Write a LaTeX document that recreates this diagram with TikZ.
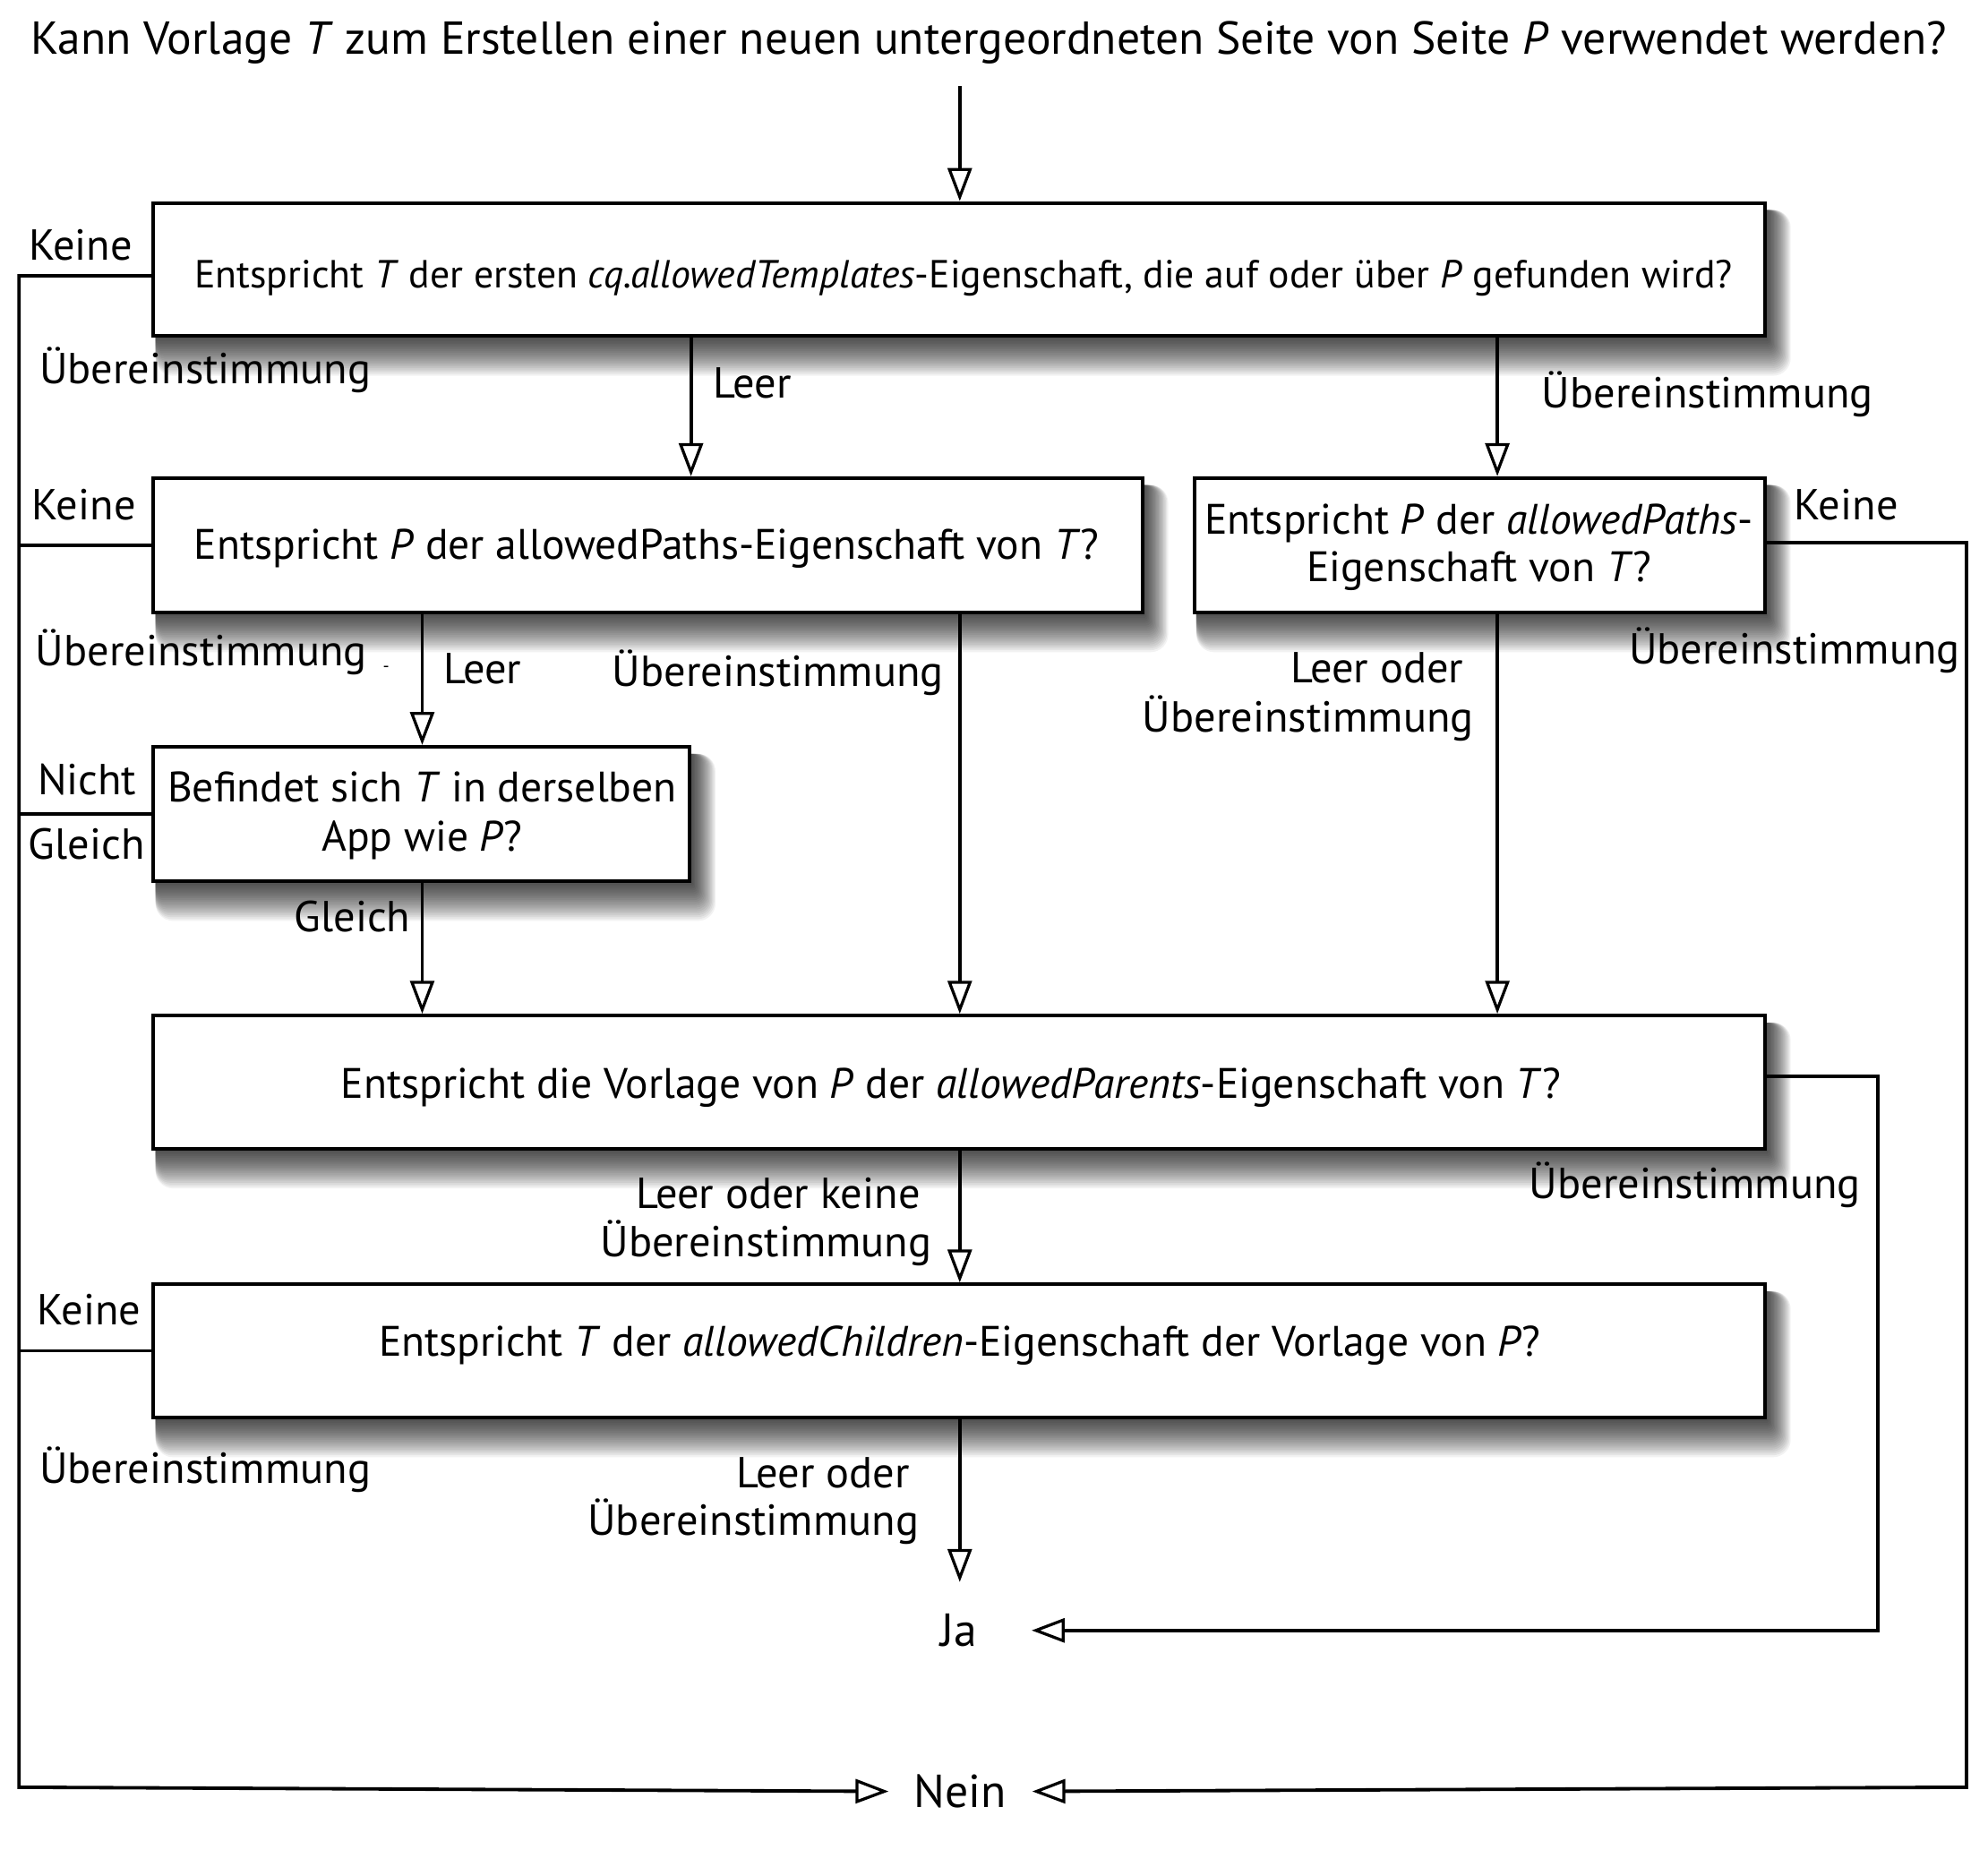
\documentclass[tikz,border=0pt]{standalone}
\usepackage{fontspec}
\setmainfont{PT Sans}
\usetikzlibrary{arrows.meta}
\pgfdeclarelayer{paper}
\pgfdeclarelayer{background}
\pgfsetlayers{paper,background,main}
\begin{document}
\begin{tikzpicture}[x=1pt,y=-1pt,
  conn/.style={line width=2.7pt, line join=miter},
  arr/.style={conn, -{Triangle[length=26pt,width=19pt,fill=white,line width=2.3pt]}},
  qbox/.style={draw, line width=2.8pt, fill=white, inner sep=0pt},
  shadelayer/.style={fill=black, fill opacity=0.05, draw=none},
  txt/.style={inner sep=0pt, font=\fontsize{33.6}{40}\selectfont},
  txtsm/.style={inner sep=0pt, font=\fontsize{30.9}{37}\selectfont},
  lbl/.style={inner sep=0pt, font=\fontsize{34.2}{41}\selectfont},
  ttl/.style={inner sep=0pt, font=\fontsize{36.4}{44}\selectfont},
  term/.style={inner sep=0pt, font=\fontsize{36.5}{44}\selectfont}
]
\useasboundingbox (0,0) rectangle (1568,1459);
\begin{pgfonlayer}{paper}
\fill[white] (0,0) rectangle (1568,1459);
\end{pgfonlayer}

% boxes
\node[qbox, minimum width=1271pt, minimum height=105pt] (b1) at (756.5,212.5) {};
\node[qbox, minimum width=780pt,  minimum height=106pt] (b2) at (511,430) {};
\node[qbox, minimum width=450pt,  minimum height=106pt] (b3) at (1167,430) {};
\node[qbox, minimum width=423pt,  minimum height=106pt] (b4) at (332.5,642) {};
\node[qbox, minimum width=1271pt, minimum height=105pt] (b5) at (756.5,853.5) {};
\node[qbox, minimum width=1271pt, minimum height=105pt] (b6) at (756.5,1065.5) {};
\node[term, minimum width=114pt, minimum height=76pt] (ja) at (756.5,1286) {Ja};
\node[term, minimum width=113pt, minimum height=20pt] (nein) at (757.5,1413) {Nein};

% soft drop shadows
\begin{pgfonlayer}{background}
\foreach \b in {b1,b2,b3,b4,b5,b6}{
  \foreach \k [evaluate=\k as \dx using 0.95*\k, evaluate=\k as \dy using -1.5*\k, evaluate=\k as \rr using 0.7*\k] in {1,...,20}{
    \fill[shadelayer, rounded corners=\rr pt] ([xshift=3pt,yshift=-7pt]\b.north west) rectangle ([xshift=\dx pt,yshift=\dy pt]\b.south east);
  }
}
\end{pgfonlayer}

% title and box texts
\node[ttl, anchor=base] (t0) at (780,42.6) {Kann Vorlage \textit{T} zum Erstellen einer neuen untergeordneten Seite von Seite \textit{P} verwendet werden?};
\node[txtsm, anchor=base] (t1) at (760,227) {Entspricht \textit{T} der ersten \textit{cq.allowedTemplates}-Eigenschaft, die auf oder über \textit{P} gefunden wird?};
\node[txt, anchor=base] (t2) at (510,441.4) {Entspricht \textit{P} der allowedPaths-Eigenschaft von \textit{T}?};
\node[txt, anchor=base] (t3a) at (1166.5,421) {Entspricht \textit{P} der \textit{allowedPaths}-};
\node[txt, anchor=base] (t3b) at (1166.5,458.7) {Eigenschaft von \textit{T}?};
\node[txt, anchor=base] (t4a) at (333,632.6) {Befindet sich \textit{T} in derselben};
\node[txt, anchor=base] (t4b) at (333,671) {App wie \textit{P}?};
\node[txt, anchor=base] (t5) at (750,866) {Entspricht die Vorlage von \textit{P} der \textit{allowedParents}-Eigenschaft von \textit{T}?};
\node[txt, anchor=base] (t6) at (757,1070) {Entspricht \textit{T} der \textit{allowedChildren}-Eigenschaft der Vorlage von \textit{P}?};

% helper coordinates
\coordinate (start) at (757,68);
\coordinate (lb) at (15,1409.7);
\coordinate (rb) at (1551,1409.7);
\coordinate (xR2) at (1481,0);
\coordinate (xa) at (545,0);
\coordinate (xb) at (1181,0);
\coordinate (xc) at (333,0);
\coordinate (xd) at (757,0);

% connectors
\draw[arr] (start) -- (start |- b1.north);
\draw[arr] (b1.south -| xa) -- (b2.north -| xa);
\draw[arr] (b1.south -| xb) -- (b3.north -| xb);
\draw[arr] (b2.south -| xc) -- (b4.north -| xc);
\draw[arr] (b2.south -| xd) -- (b5.north -| xd);
\draw[arr] (b3.south -| xb) -- (b5.north -| xb);
\draw[arr] (b4.south -| xc) -- (b5.north -| xc);
\draw[arr] (b5.south -| xd) -- (b6.north -| xd);
\draw[arr] (b6.south -| xd) -- (ja.north -| xd);
\draw[arr] ([yshift=-5pt]b1.west) -- ([yshift=-5pt]b1.west -| lb) -- (lb) -- (nein.west);
\draw[conn] (b2.west) -- (b2.west -| lb);
\draw[conn] (b4.west) -- (b4.west -| lb);
\draw[conn] (b6.west) -- (b6.west -| lb);
\draw[arr] ([yshift=2pt]b3.east) -- ([yshift=2pt]b3.east -| rb) -- (rb) -- (nein.east);
\draw[arr] ([yshift=4.5pt]b5.east) -- ([yshift=4.5pt]b5.east -| xR2) |- (ja.east);

% labels
\node[lbl, anchor=base west] (l1) at (22.5,205) {Keine};
\node[lbl, anchor=base west] (l2) at (31,302.7) {Übereinstimmung};
\node[lbl, anchor=base west] (l3) at (562.5,313.7) {Leer};
\node[lbl, anchor=base west] (l4) at (1216,321.5) {Übereinstimmung};
\node[lbl, anchor=base west] (l5) at (25,410) {Keine};
\node[lbl, anchor=base west] (l6) at (1415,410) {Keine};
\node[lbl, anchor=base west] (l7) at (28,524.8) {Übereinstimmung};
\node[inner sep=0pt, font=\fontsize{14}{16}\selectfont] (l7d) at (304.5,527.6) {-};
\node[lbl, anchor=base west] (l8) at (349.5,539.3) {Leer};
\node[lbl, anchor=base west] (l9) at (482.8,541.7) {Übereinstimmung};
\node[lbl, anchor=base east] (l10a) at (1154.5,538.8) {Leer oder};
\node[lbl, anchor=base east] (l10b) at (1162.5,577.4) {Übereinstimmung};
\node[lbl, anchor=base west] (l11) at (1284.6,523.9) {Übereinstimmung};
\node[lbl, anchor=base west] (l12) at (29.5,627) {Nicht};
\node[lbl, anchor=base west] (l13) at (22.3,678) {Gleich};
\node[lbl, anchor=base east] (l14) at (324,735) {Gleich};
\node[lbl, anchor=base east] (l15a) at (726,953.3) {Leer oder keine};
\node[lbl, anchor=base east] (l15b) at (735,991.3) {Übereinstimmung};
\node[lbl, anchor=base west] (l16) at (1206,945.6) {Übereinstimmung};
\node[lbl, anchor=base west] (l17) at (29,1045) {Keine};
\node[lbl, anchor=base west] (l18) at (31,1170) {Übereinstimmung};
\node[lbl, anchor=base east] (l19a) at (717.5,1173.4) {Leer oder};
\node[lbl, anchor=base east] (l19b) at (725,1211) {Übereinstimmung};
\end{tikzpicture}
\end{document}
